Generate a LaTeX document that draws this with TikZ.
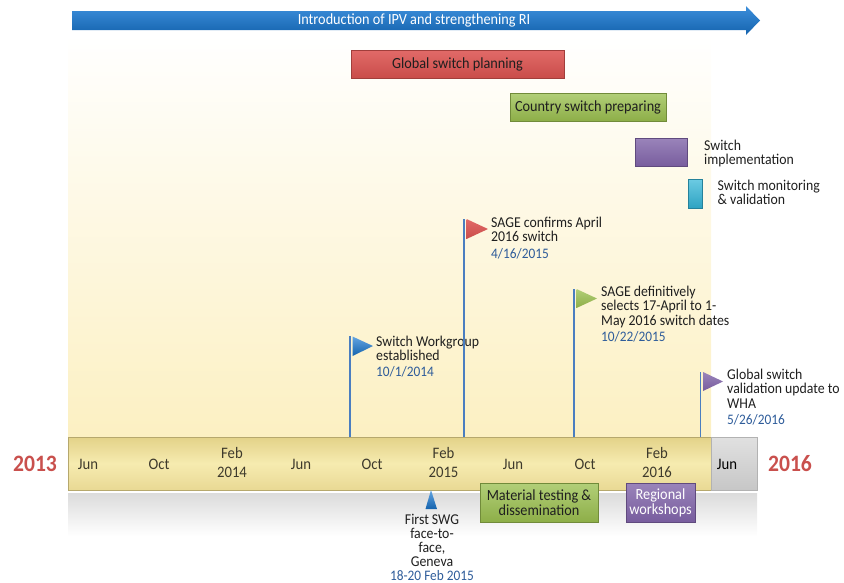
\documentclass[tikz,border=0pt]{standalone}
\usepackage{fontspec}
\setmainfont{Carlito}[FakeStretch=0.92]
\definecolor{bgY}{HTML}{FCF0C2}
\definecolor{arrT}{HTML}{3C8EDB}
\definecolor{arrB}{HTML}{1463AD}
\definecolor{redT}{HTML}{E26A68}
\definecolor{redB}{HTML}{C94D4A}
\definecolor{grnT}{HTML}{B2CF78}
\definecolor{grnB}{HTML}{8DAE48}
\definecolor{purT}{HTML}{9A84BA}
\definecolor{purB}{HTML}{785D9E}
\definecolor{cyaT}{HTML}{6CCBE3}
\definecolor{cyaB}{HTML}{2EA3C2}
\definecolor{poleC}{HTML}{4A7EC0}
\definecolor{dateC}{HTML}{2E5C9A}
\definecolor{yearC}{HTML}{C9504D}
\definecolor{barT}{HTML}{E3D288}
\definecolor{barM}{HTML}{F6EBB0}
\definecolor{barB}{HTML}{E9D994}
\definecolor{monC}{HTML}{3E3A2C}
\newcommand\mydate{\color{dateC}\fontsize{14.5}{14}\selectfont}
\begin{document}
\begin{tikzpicture}[x=1pt,y=-1pt,
  box/.style={draw=#1B!80!black, line width=0.4pt, top color=#1T, bottom color=#1B,
    inner sep=0pt, align=center, text=black!88, font=\fontsize{15.5}{15}\selectfont},
  flagtxt/.style={anchor=north west, inner sep=0pt, align=left,
    font=\fontsize{15}{14.2}\selectfont, text=black!88},
  pole/.style={draw=poleC, line width=1.4pt},
  month/.style={inner sep=0pt, align=center, text=monC,
    font=\fontsize{16}{18.3}\selectfont},
  year/.style={inner sep=0pt, text=yearC, font=\bfseries\fontsize{23.5}{23.5}\selectfont},
  ]
\useasboundingbox (0,0) rectangle (844,582);
% background
\shade[top color=white, bottom color=bgY] (68,35) rectangle (711,437);
% top arrow
\shade[top color=arrT, bottom color=arrB]
  (72,11) -- (746,11) -- (746,6) -- (760,20.5) -- (746,35) -- (746,30) -- (72,30) -- cycle;
\node[text=white, font=\fontsize{15.5}{14}\selectfont] (ipv) at (414,20.5)
  {Introduction of IPV and strengthening RI};
% activity boxes
\node[box=red, minimum width=213pt, minimum height=28pt] (gsp) at (457.5,64) {Global switch planning};
\node[box=grn, minimum width=156pt, minimum height=28pt] (csp) at (588,107) {Country switch preparing};
\node[box=pur, minimum width=52pt, minimum height=28pt] (si) at (661.5,152) {};
\node[box=cya, minimum width=14pt, minimum height=29pt] (smv) at (695,193.5) {};
\node[flagtxt] (sit) at (704,139.5) {Switch\\implementation};
\node[flagtxt] (smvt) at (717.5,179.5) {Switch monitoring\\\& validation};
% timeline bar
\shade[top color=barT, bottom color=barB, middle color=barM, draw=barT!80!black, line width=0.3pt]
  (68,437) rectangle (711,490);
\shade[top color=black!12, middle color=white, bottom color=black!22, draw=black!30, line width=0.3pt]
  (711,437) rectangle (757,490);
\shade[top color=black!14, bottom color=white] (68,493) rectangle (757,536);
% months
\node[month, anchor=base] (m1) at (88,469.3) {Jun};
\node[month, anchor=base] (m2) at (159,469.3) {Oct};
\node[month] (m3) at (232,462.5) {Feb\\2014};
\node[month, anchor=base] (m4) at (301,469.3) {Jun};
\node[month, anchor=base] (m5) at (372,469.3) {Oct};
\node[month] (m6) at (443.5,462.5) {Feb\\2015};
\node[month, anchor=base] (m7) at (513,469.3) {Jun};
\node[month, anchor=base] (m8) at (585,469.3) {Oct};
\node[month] (m9) at (657,462.5) {Feb\\2016};
\node[month, anchor=base, text=black] (m10) at (727,469.3) {Jun};
\node[year] (y1) at (35,464) {2013};
\node[year] (y2) at (790,464) {2016};
% flags
\coordinate (f1b) at (350,437); \coordinate (f1t) at (350,336);
\draw[pole] (f1b) -- (f1t);
\shade[top color=arrT!80!white, bottom color=arrB] (352.5,336.5) -- (373,346) -- (352.5,356) -- cycle;
\node[flagtxt] (f1) at (376,335.7) {Switch Workgroup\\established\\[2pt]{\mydate 10/1/2014}};
\coordinate (f2b) at (464,437); \coordinate (f2t) at (464,219);
\draw[pole] (f2b) -- (f2t);
\shade[top color=redT, bottom color=redB] (466.5,219) -- (488,229) -- (466.5,239) -- cycle;
\node[flagtxt] (f2) at (491,217) {SAGE confirms April\\2016 switch\\[2pt]{\mydate 4/16/2015}};
\coordinate (f3b) at (574,437); \coordinate (f3t) at (574,289);
\draw[pole] (f3b) -- (f3t);
\shade[top color=grnT, bottom color=grnB] (576.5,289) -- (597,298.5) -- (576.5,308) -- cycle;
\node[flagtxt] (f3) at (601,286) {SAGE definitively\\selects 17-April to 1-\\May 2016 switch dates\\[2pt]{\mydate 10/22/2015}};
\coordinate (f4b) at (700.5,437); \coordinate (f4t) at (700.5,372);
\draw[pole] (f4b) -- (f4t);
\shade[top color=purT, bottom color=purB] (703,372) -- (723,381.5) -- (703,391) -- cycle;
\node[flagtxt] (f4) at (727,369) {Global switch\\validation update to\\WHA\\[2pt]{\mydate 5/26/2016}};
% first SWG marker
\coordinate (swg) at (431,490);
\shade[top color=arrT!80!white, bottom color=arrB] (swg) -- (437,509) -- (425.5,509) -- cycle;
\node[inner sep=0pt, align=center, anchor=north, font=\fontsize{15}{14}\selectfont, text=black!88] (swgt) at (432,513.5)
  {First SWG\\face-to-\\face,\\Geneva\\{\mydate 18-20 Feb 2015}};
% bottom boxes
\node[box=grn, minimum width=118pt, minimum height=39pt] (mtd) at (539,502.5) {Material testing \&\\dissemination};
\node[box=pur, minimum width=69pt, minimum height=39pt, text=white] (rw) at (660.5,502.5) {Regional\\workshops};
\end{tikzpicture}
\end{document}
